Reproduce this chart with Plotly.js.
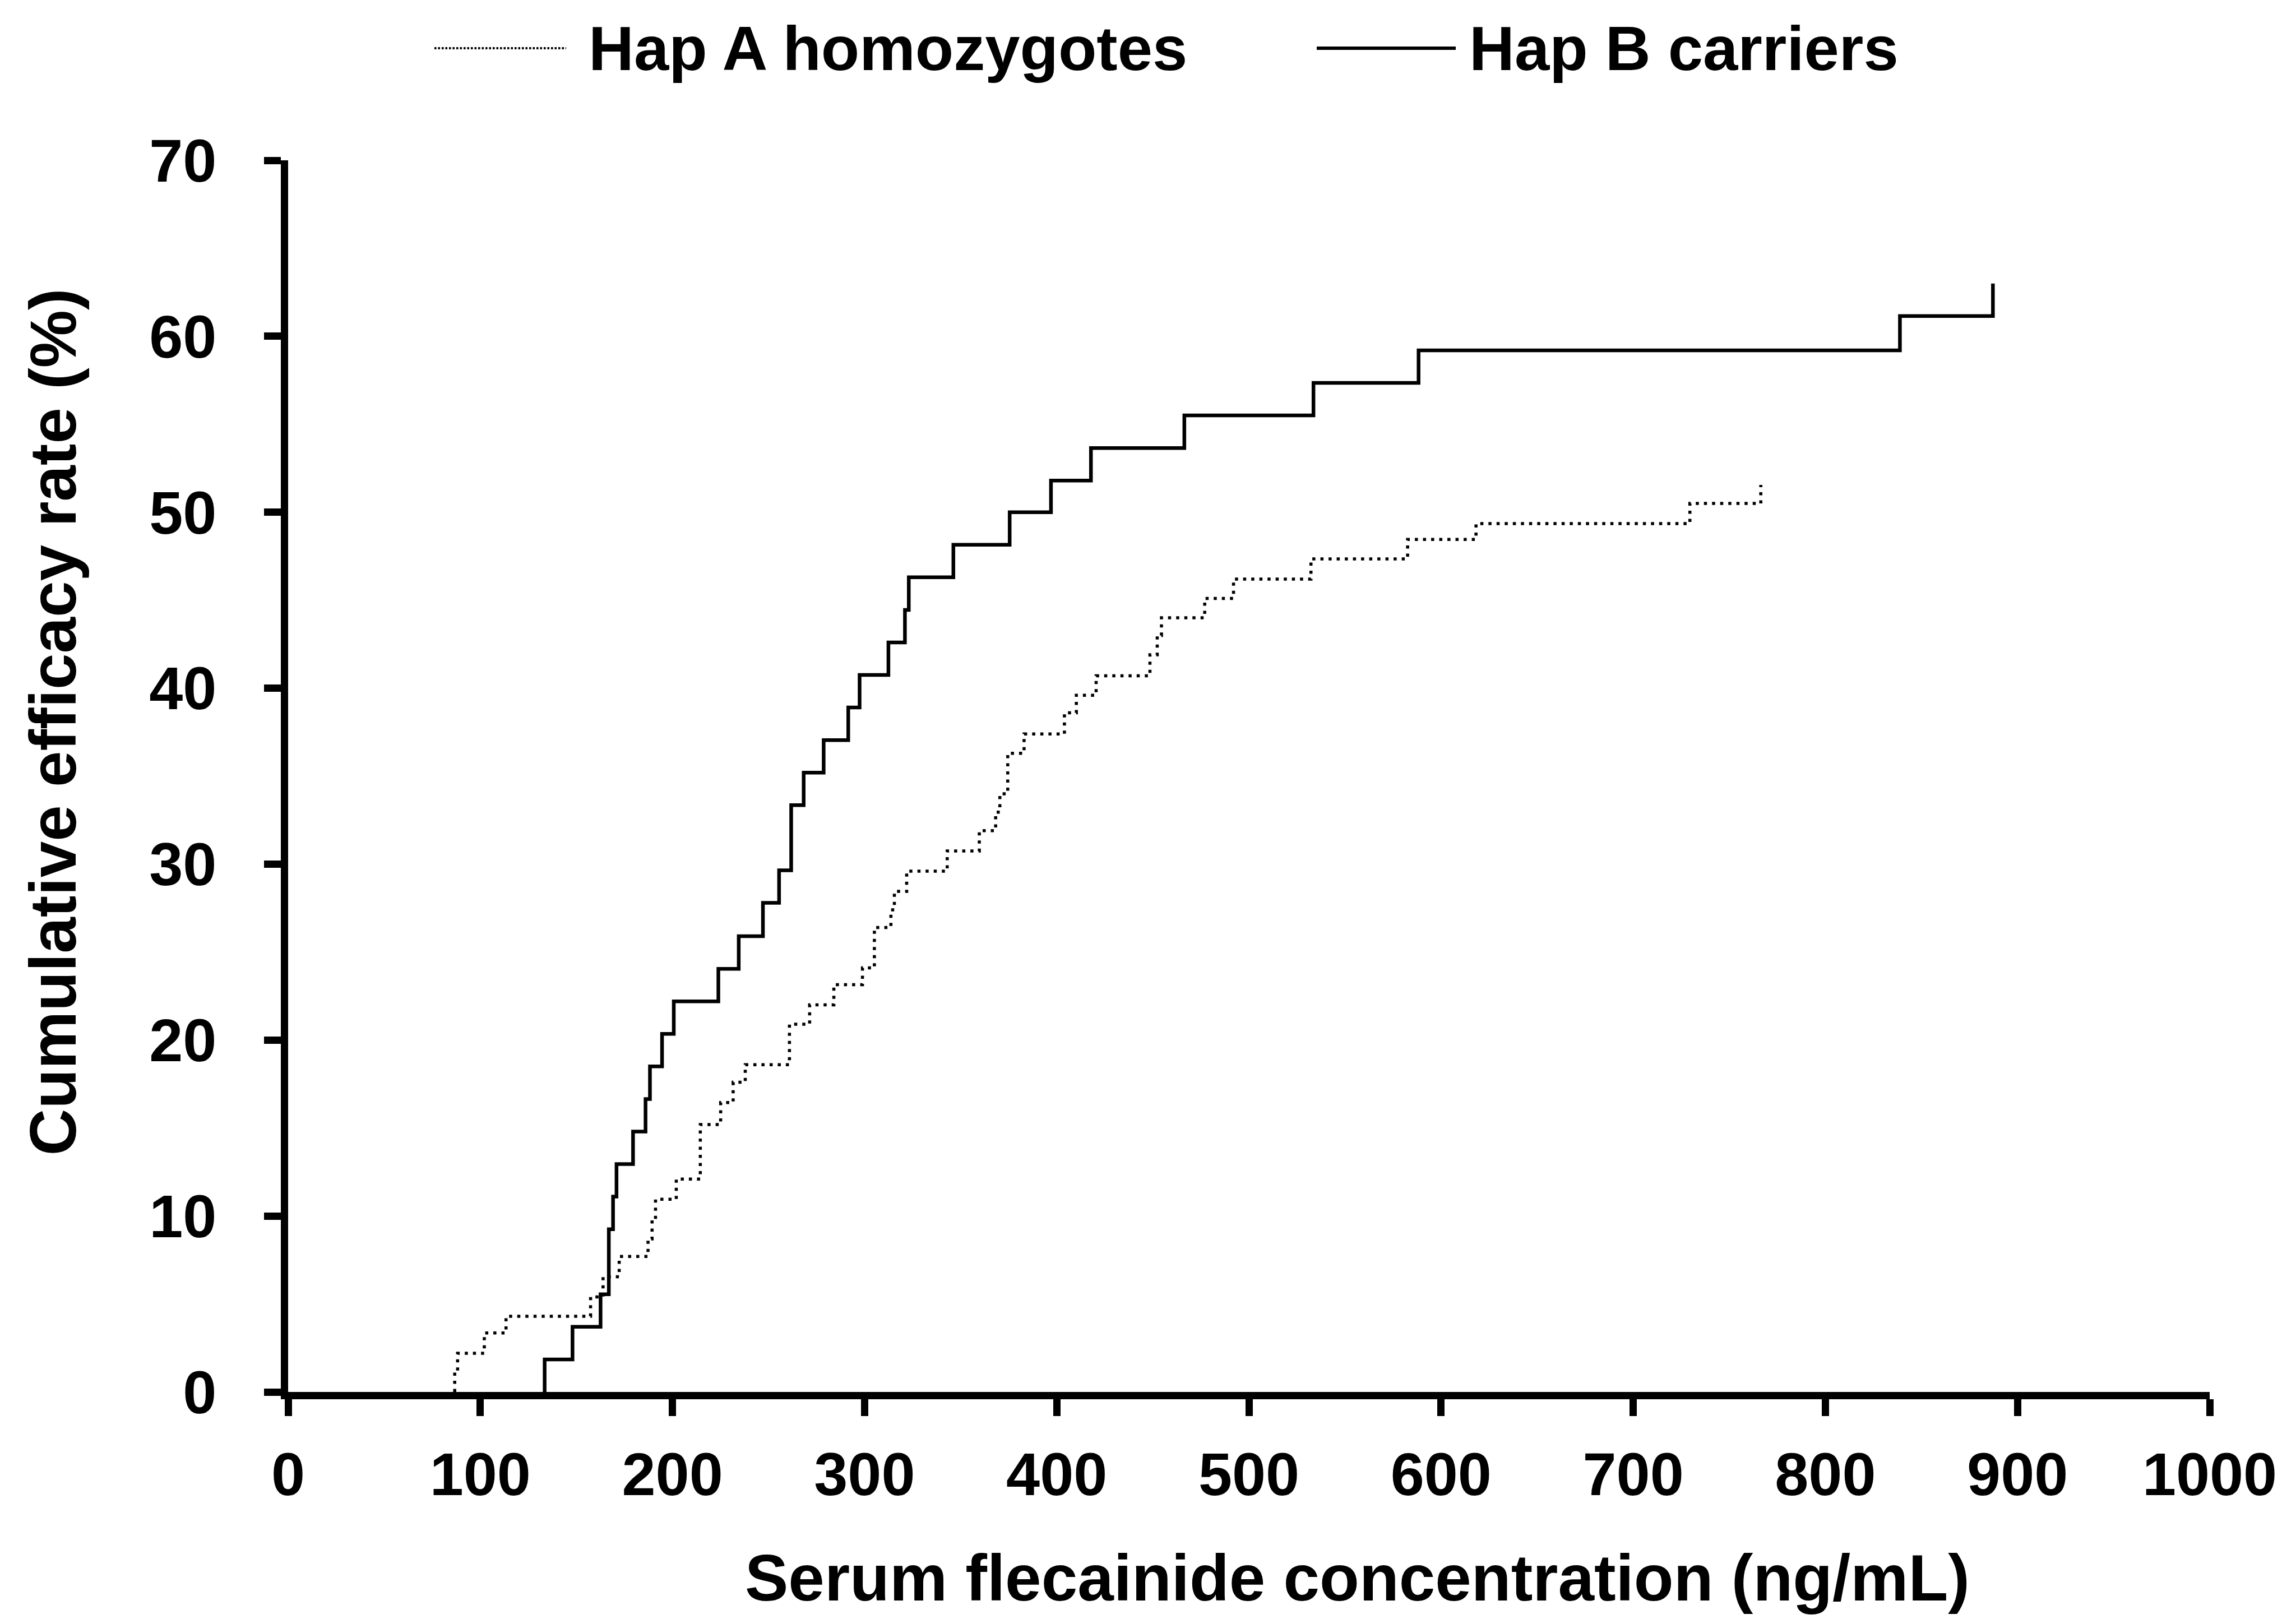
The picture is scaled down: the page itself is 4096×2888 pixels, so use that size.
<!DOCTYPE html>
<html><head><meta charset="utf-8">
<script src="https://cdn.plot.ly/plotly-3.0.1.min.js"></script>
<style>html,body{margin:0;padding:0;background:#fff;} #chart{width:4096px;height:2888px;}</style>
</head><body><div id="chart"></div>
<script>
// ---- data ----
const seriesNames = ['Hap A homozygotes', 'Hap B carriers'];
const hapA_conc = [86.7, 86.7, 88.2, 102.1, 113.4, 157.4, 163.9, 172.3, 187.3, 189.4,
  191.2, 202.0, 214.5, 225.1, 231.6, 237.9, 260.9, 271.4, 284.0, 298.9,
  305.1, 313.7, 315.5, 321.9, 343.0, 359.7, 368.2, 370.4, 374.5, 383.0,
  404.0, 410.2, 420.5, 448.5, 452.3, 454.5, 477.0, 492.0, 532.3, 582.6,
  618.2, 729.5, 766.4];
const hapA_rate = [0, 1.1, 2.2, 3.35, 4.3, 5.4, 6.55, 7.7, 8.7, 9.8,
  10.95, 12.1, 15.2, 16.45, 17.6, 18.6, 20.9, 22.0, 23.15, 24.1,
  26.4, 27.4, 28.45, 29.6, 30.75, 31.9, 32.95, 34.0, 36.3, 37.4,
  38.6, 39.6, 40.7, 41.9, 43.0, 44.0, 45.1, 46.2, 47.35, 48.45,
  49.35, 50.5, 51.55];
const hapB_conc = [133.5, 133.5, 148.0, 162.6, 166.9, 169.1, 170.9, 179.5, 186.0, 188.3,
  194.6, 200.7, 223.9, 234.5, 247.1, 255.5, 261.8, 268.3, 278.7, 291.5,
  297.4, 312.4, 321.0, 323.0, 346.2, 375.5, 397.0, 417.8, 466.4, 533.6,
  588.3, 838.8, 887.2];
const hapB_rate = [0, 1.85, 3.7, 5.55, 9.25, 11.1, 12.95, 14.8, 16.65, 18.5,
  20.35, 22.2, 24.05, 25.9, 27.8, 29.65, 33.35, 35.2, 37.05, 38.9,
  40.75, 42.6, 44.45, 46.3, 48.15, 50.0, 51.8, 53.65, 55.5, 57.35,
  59.2, 61.15, 63.0];
const xTicks = [0, 100, 200, 300, 400, 500, 600, 700, 800, 900, 1000];
const yTicks = [0, 10, 20, 30, 40, 50, 60, 70];
const xTitle = 'Serum flecainide concentration (ng/mL)';
const yTitle = 'Cumulative efficacy rate (%)';

// ---- layout geometry (output pixels) ----
const W = 4096, H = 2888, L = 514, R = 154, T = 286, B = 405;
const PW = W - L - R, PH = H - T - B;
const px = v => (v - L) / PW;
const py = v => (H - B - v) / PH;
const FONT = 'Liberation Sans, Arial, Helvetica, sans-serif';
const dotDash = '5.5px,9px';
// where the texts should sit (pixels): baselines / edges / centres
const target = {
  xTickBaseline: 2667, yTickRight: 386,
  xTitleBaseline: 2855, xTitleCenterX: 2422,
  yTitleCenterX: 95, yTitleCenterY: 1288,
  legBaseline: 126, leg1Left: 1050, leg2Left: 2621
};
const ASC = 0.905 / 1.117; // baseline fraction of the text box height

const traces = [
  {x: hapA_conc, y: hapA_rate, name: seriesNames[0], mode: 'lines',
   line: {shape: 'hv', color: '#000', width: 5.5, dash: dotDash}},
  {x: hapB_conc, y: hapB_rate, name: seriesNames[1], mode: 'lines',
   line: {shape: 'hv', color: '#000', width: 6.5}}
];

const axisCommon = {
  showgrid: false, zeroline: false, showline: true, linecolor: '#000', linewidth: 13,
  ticks: 'outside', ticklen: 30, tickwidth: 13, tickcolor: '#000',
  tickfont: {family: FONT, size: 108, color: '#000', weight: 'bold'},
  fixedrange: true
};

const layout = {
  width: W, height: H, autosize: false,
  margin: {l: L, r: R, t: T, b: B, pad: 0},
  paper_bgcolor: '#fff', plot_bgcolor: '#fff',
  showlegend: false,
  font: {family: FONT, color: '#000'},
  xaxis: Object.assign({}, axisCommon, {range: [0, 1000], tickmode: 'array', tickvals: xTicks,
    ticktext: xTicks.map(String), ticklabelstandoff: 40}),
  yaxis: Object.assign({}, axisCommon, {range: [0, 70], tickmode: 'array', tickvals: yTicks,
    ticktext: yTicks.map(String), ticklabelstandoff: 59}),
  annotations: [
    {text: yTitle, xref: 'paper', yref: 'paper', x: px(95), y: py(1288), textangle: -90,
     xanchor: 'center', yanchor: 'middle', showarrow: false,
     font: {family: FONT, size: 116, color: '#000', weight: 'bold'}},
    {text: xTitle, xref: 'paper', yref: 'paper', x: px(2422), y: py(2860),
     xanchor: 'center', yanchor: 'middle', showarrow: false,
     font: {family: FONT, size: 116, color: '#000', weight: 'bold'}},
    {text: seriesNames[0], xref: 'paper', yref: 'paper', x: px(1057), y: py(87),
     xanchor: 'left', yanchor: 'middle', showarrow: false,
     font: {family: FONT, size: 112, color: '#000', weight: 'bold'}},
    {text: seriesNames[1], xref: 'paper', yref: 'paper', x: px(2628), y: py(87),
     xanchor: 'left', yanchor: 'middle', showarrow: false,
     font: {family: FONT, size: 112, color: '#000', weight: 'bold'}}
  ],
  shapes: [
    {type: 'line', xref: 'paper', yref: 'paper', x0: px(775), x1: px(1010), y0: py(86), y1: py(86),
     line: {color: '#000', width: 4, dash: '3.5px,3px'}},
    {type: 'line', xref: 'paper', yref: 'paper', x0: px(2349), x1: px(2597), y0: py(86), y1: py(86),
     line: {color: '#000', width: 6}}
  ]
};

const gd = document.getElementById('chart');
Plotly.newPlot(gd, traces, layout, {staticPlot: true, displayModeBar: false}).then(function () {
  const upd = {};
  const rectOf = sel => { const n = gd.querySelector(sel); return n ? n.getBoundingClientRect() : null; };
  let r = rectOf('.xtick text');
  if (r) {
    const base = r.top + r.height * ASC;
    upd['xaxis.ticklabelstandoff'] = Math.round(layout.xaxis.ticklabelstandoff + (target.xTickBaseline - base));
  }
  r = rectOf('.ytick text');
  if (r) {
    upd['yaxis.ticklabelstandoff'] = Math.round(layout.yaxis.ticklabelstandoff + (r.right - target.yTickRight));
  }
  const ann = layout.annotations;
  r = rectOf('.annotation[data-index="0"] .annotation-text');
  if (r) {
    upd['annotations[0].x'] = ann[0].x + (target.yTitleCenterX - (r.left + r.right) / 2) / PW;
    upd['annotations[0].y'] = ann[0].y + ((r.top + r.bottom) / 2 - target.yTitleCenterY) / PH;
  }
  r = rectOf('.annotation[data-index="1"] .annotation-text');
  if (r) {
    upd['annotations[1].x'] = ann[1].x + (target.xTitleCenterX - (r.left + r.right) / 2) / PW;
    upd['annotations[1].y'] = ann[1].y + ((r.top + r.height * ASC) - target.xTitleBaseline) / PH;
  }
  [[2, target.leg1Left], [3, target.leg2Left]].forEach(function (p) {
    const rr = rectOf('.annotation[data-index="' + p[0] + '"] .annotation-text');
    if (rr) {
      upd['annotations[' + p[0] + '].x'] = ann[p[0]].x + (p[1] - rr.left) / PW;
      upd['annotations[' + p[0] + '].y'] = ann[p[0]].y + ((rr.top + rr.height * ASC) - target.legBaseline) / PH;
    }
  });
  return Plotly.relayout(gd, upd);
});
</script>
</body></html>
